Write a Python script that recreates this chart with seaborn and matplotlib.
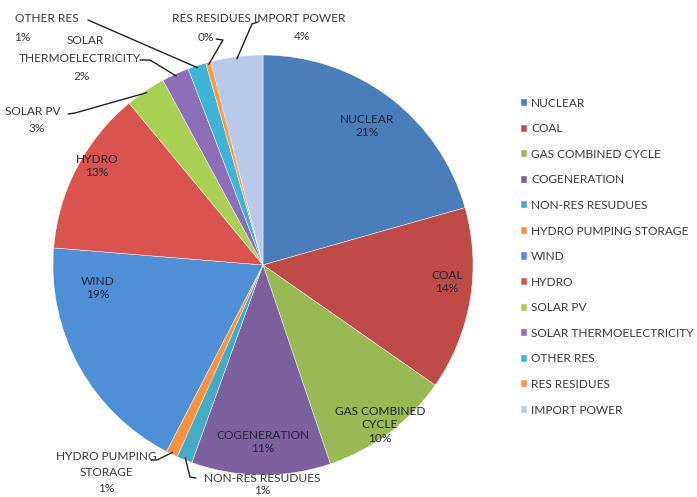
import seaborn as sns
import matplotlib.pyplot as plt
import numpy as np

# generation mix (percent)
sources = ['NUCLEAR', 'COAL', 'GAS COMBINED CYCLE', 'COGENERATION', 'NON-RES RESUDUES',
           'HYDRO PUMPING STORAGE', 'WIND', 'HYDRO', 'SOLAR PV', 'SOLAR THERMOELECTRICITY',
           'OTHER RES', 'RES RESIDUES', 'IMPORT POWER']
shares = [20.6, 14.1, 10.1, 10.7, 1.2, 0.9, 18.7, 12.7, 3.1, 2.1, 1.4, 0.4, 4.0]
colors = ['#4A7EBB', '#BE4B48', '#98B954', '#7D60A0', '#46AAC5', '#F69240', '#4F8FD6',
          '#D9534F', '#A9D055', '#8C6FB8', '#3FB5D6', '#FF9A45', '#B9C9E9']

sns.set_style('white')
plt.rcParams['font.family'] = ['Lato', 'DejaVu Sans']

W, H = 697, 497
CX, CY, R = 263, 265, 210


def px(x, y):
    # pixel position -> pie data coords
    return (x - CX) / R, (CY - y) / R


fig = plt.figure(figsize=(W / 100, H / 100), dpi=100)
ax = fig.add_axes([(CX - R) / W, (H - CY - R) / H, 2 * R / W, 2 * R / H])
wedges, _ = ax.pie(shares, colors=colors, startangle=90, counterclock=False,
                   radius=1, wedgeprops=dict(linewidth=0.3, edgecolor='white'))
ax.set_xlim(-1, 1)
ax.set_ylim(-1, 1)
ax.axis('off')

pct = [f'{round(v)}%' for v in shares]
fs = 8.6
inner = '#1F2436'
outer = '#383838'

# labels inside the big slices
inside = {0: ('NUCLEAR', (367, 126)), 1: ('COAL', (447, 282)),
          2: ('GAS COMBINED\nCYCLE', (380, 425)), 3: ('COGENERATION', (263, 442)),
          6: ('WIND', (98, 288)), 7: ('HYDRO', (97, 166))}
for i, (name, pos) in inside.items():
    ax.text(*px(*pos), f'{name}\n{pct[i]}', ha='center', va='center',
            fontsize=fs, color=inner, linespacing=1.3)


def edge_point(i):
    w = wedges[i]
    a = np.deg2rad((w.theta1 + w.theta2) / 2)
    return np.cos(a), np.sin(a)


# labels outside with leader lines
outside = {
    10: ([('OTHER RES', (47, 18)), (pct[10], (22, 37))], [(88, 20)]),
    9: ([('SOLAR', (85, 40)), ('THERMOELECTRICITY', (80, 58)), (pct[9], (82, 76))],
        [(140, 60), (150, 60)]),
    8: ([('SOLAR PV', (33, 111)), (pct[8], (37, 128))], [(68, 114), (75, 113)]),
    11: ([('RES RESIDUES', (211, 18)), (pct[11], (206, 37))], [(216, 39), (223, 40)]),
    12: ([('IMPORT POWER', (300, 18)), (pct[12], (302, 36))], [(258, 22), (252, 24)]),
    5: ([('HYDRO PUMPING', (106, 457)), ('STORAGE', (106, 473)), (pct[5], (106, 489))],
        [(151, 460), (157, 460)]),
    4: ([('NON-RES RESUDUES', (262, 478)), (pct[4], (262, 490))], [(196, 478), (190, 477)]),
}
for i, (texts, pts) in outside.items():
    for s, pos in texts:
        ax.text(*px(*pos), s, ha='center', va='center', fontsize=fs, color=outer,
                clip_on=False)
    xs = [px(*p)[0] for p in pts]
    ys = [px(*p)[1] for p in pts]
    ex, ey = edge_point(i)
    ax.plot(xs + [ex * 0.99], ys + [ey * 0.99], color='#222222', lw=1.0, clip_on=False)

leg = fig.legend(wedges, sources, loc='upper left', bbox_to_anchor=(516 / W, 1 - 93 / H),
                 frameon=False, fontsize=fs, handlelength=0.55, handleheight=0.55,
                 handletextpad=0.3, labelspacing=1.22, borderaxespad=0)
for t in leg.get_texts():
    t.set_color(outer)

fig.savefig('out.png', dpi=100)
